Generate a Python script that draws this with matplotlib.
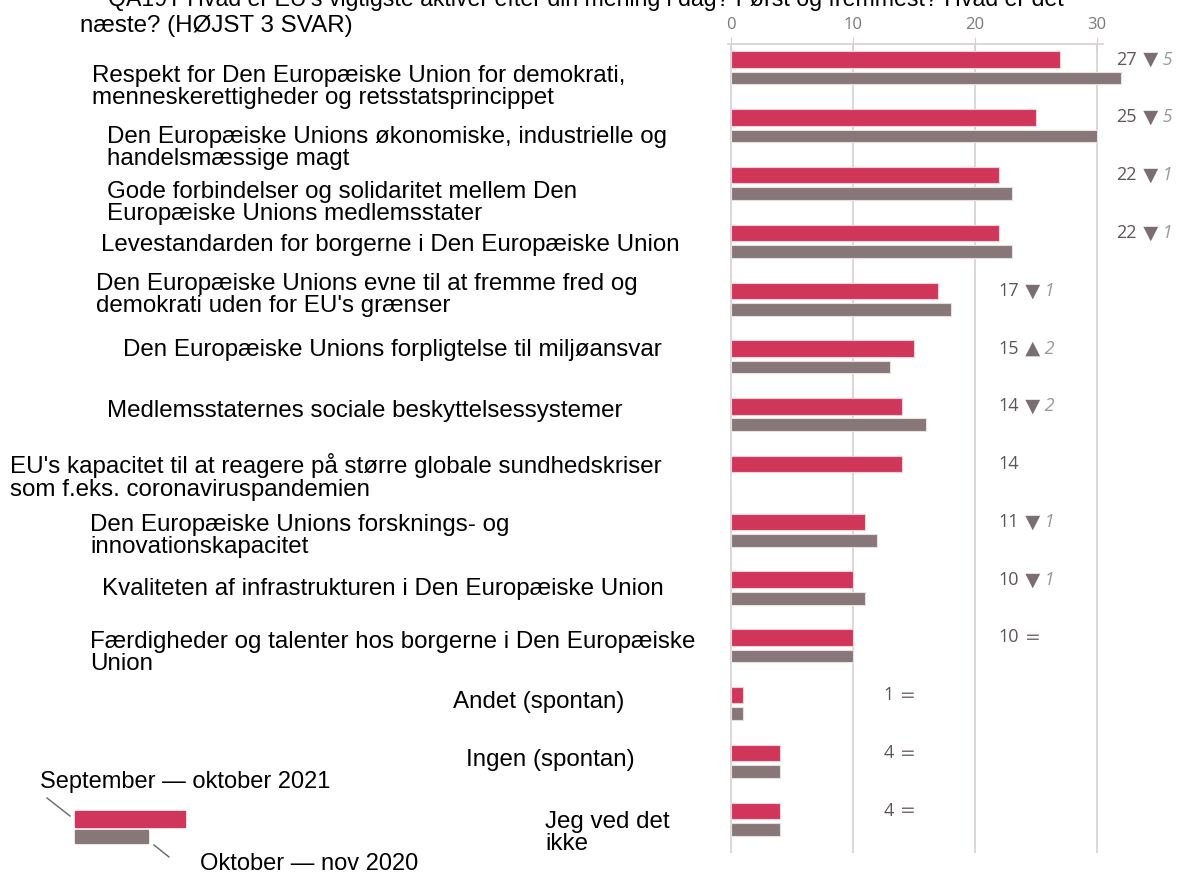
import matplotlib.pyplot as plt
from matplotlib.patches import Rectangle
from matplotlib.lines import Line2D

# --- data ---
labels = [
    "Respekt for Den Europæiske Union for demokrati,\nmenneskerettigheder og retsstatsprincippet",
    "Den Europæiske Unions økonomiske, industrielle og\nhandelsmæssige magt",
    "Gode forbindelser og solidaritet mellem Den\nEuropæiske Unions medlemsstater",
    "Levestandarden for borgerne i Den Europæiske Union",
    "Den Europæiske Unions evne til at fremme fred og\ndemokrati uden for EU's grænser",
    "Den Europæiske Unions forpligtelse til miljøansvar",
    "Medlemsstaternes sociale beskyttelsessystemer",
    "EU's kapacitet til at reagere på større globale sundhedskriser\nsom f.eks. coronaviruspandemien",
    "Den Europæiske Unions forsknings- og\ninnovationskapacitet",
    "Kvaliteten af infrastrukturen i Den Europæiske Union",
    "Færdigheder og talenter hos borgerne i Den Europæiske\nUnion",
    "Andet (spontan)",
    "Ingen (spontan)",
    "Jeg ved det\nikke",
]
sep_okt_2021 = [27, 25, 22, 22, 17, 15, 14, 14, 11, 10, 10, 1, 4, 4]
okt_nov_2020 = [32, 30, 23, 23, 18, 13, 16, 0, 12, 11, 10, 1, 4, 4]
trend = ["down", "down", "down", "down", "down", "up", "down", None,
         "down", "down", "eq", "eq", "eq", "eq"]
change = [5, 5, 1, 1, 1, 2, 2, None, 1, 1, None, None, None, None]
title_lines = ["QA19T Hvad er EU's vigtigste aktiver efter din mening i dag? Først og fremmest? Hvad er det",
               "næste? (HØJST 3 SVAR)"]

# --- layout (pixels of the 1178x874 canvas) ---
label_x_px = [92, 107, 107, 101, 96, 123, 107, 10, 90, 102, 90, 453, 466, 545]
label_y_px = [87, 148, 203, 245, 295, 350, 411, 477, 536, 589, 653, 702, 760, 833]
annot_x = [31.6] * 4 + [21.9] * 7 + [12.5] * 3

RED = "#d0365a"
GREY = "#877779"
W, H = 1178, 874
FS = 17.4

fig = plt.figure(figsize=(W / 100, H / 100), dpi=100)
ax = fig.add_axes([728 / W, 1 - 853 / H, (1103 - 728) / W, (853 - 44) / H])

n = len(labels)
rows = list(range(n))
ax.barh([r - 0.16 for r in rows], sep_okt_2021, height=0.285, color=RED,
        edgecolor="#f3d0d8", linewidth=0.8, zorder=3, clip_on=False)
ax.barh([r + 0.16 for r in rows], okt_nov_2020, height=0.22, color=GREY,
        edgecolor="#e6dfe0", linewidth=0.8, zorder=3, clip_on=False)

ax.set_xlim(-0.25, 30.5)
ax.set_ylim(13.57, -0.43)
ax.xaxis.tick_top()
ax.set_xticks([0, 10, 20, 30])
ax.tick_params(axis="x", colors="#d8d0d0", labelcolor="#7a7a7a", labelsize=12,
               direction="inout", length=10, pad=3)
ax.tick_params(axis="y", left=False, labelleft=False)
for t in ax.get_xticklabels():
    t.set_fontfamily("Open Sans")
ax.grid(axis="x", color="#d8d0d0", linewidth=1.2, zorder=0)
for s in ["left", "right", "bottom"]:
    ax.spines[s].set_visible(False)
ax.spines["top"].set_color("#d8d0d0")
ax.spines["top"].set_linewidth(1.2)

# value / trend annotations
for i in rows:
    y = i - 0.16
    t1 = ax.annotate(str(sep_okt_2021[i]), (annot_x[i], y), color="#5e5557",
                     fontsize=13, fontfamily="Open Sans", va="center",
                     annotation_clip=False)
    if trend[i] is None:
        continue
    sym = {"down": "▼", "up": "▲", "eq": "="}[trend[i]]
    t2 = ax.annotate(" " + sym, xy=(1, 0.5), xycoords=t1, va="center",
                     fontsize=13.5 if trend[i] == "eq" else 14,
                     color="#7a6e70", fontfamily="DejaVu Sans")
    if change[i] is not None:
        ax.annotate(" " + str(change[i]), xy=(1, 0.5), xycoords=t2, va="center",
                    fontsize=13, fontstyle="italic", color="#9a9a9a",
                    fontfamily="Open Sans")

# category labels
for i in rows:
    fig.text(label_x_px[i] / W, 1 - label_y_px[i] / H, labels[i], fontsize=FS,
             fontfamily="Liberation Sans", va="center", ha="left",
             linespacing=1.04, color="#000000")

# title (cut at the top in the original)
fig.text(108 / W, 1 - 6 / H, title_lines[0], fontsize=16.7, fontfamily="Liberation Sans",
         va="baseline", ha="left", color="#000000", zorder=0)
fig.text(80 / W, 1 - 32 / H, title_lines[1], fontsize=FS, fontfamily="Liberation Sans",
         va="baseline", ha="left", color="#000000", zorder=0)

# legend
fig.patches.append(Rectangle((75 / W, 1 - 827 / H), 110 / W, 16 / H,
                             transform=fig.transFigure, color=RED))
fig.patches.append(Rectangle((75 / W, 1 - 843 / H), 73 / W, 13 / H,
                             transform=fig.transFigure, color=GREY))
fig.lines.append(Line2D([47 / W, 70 / W], [1 - 798 / H, 1 - 816 / H],
                        transform=fig.transFigure, color="#666666", linewidth=1))
fig.lines.append(Line2D([154 / W, 169 / W], [1 - 845 / H, 1 - 857 / H],
                        transform=fig.transFigure, color="#666666", linewidth=1))
fig.text(40 / W, 1 - 782 / H, "September — oktober 2021", fontsize=17,
         fontfamily="Liberation Sans", va="center", color="#000000")
fig.text(200 / W, 1 - 864 / H, "Oktober — nov 2020", fontsize=17,
         fontfamily="Liberation Sans", va="center", color="#000000")

fig.savefig("out.png", dpi=100)
